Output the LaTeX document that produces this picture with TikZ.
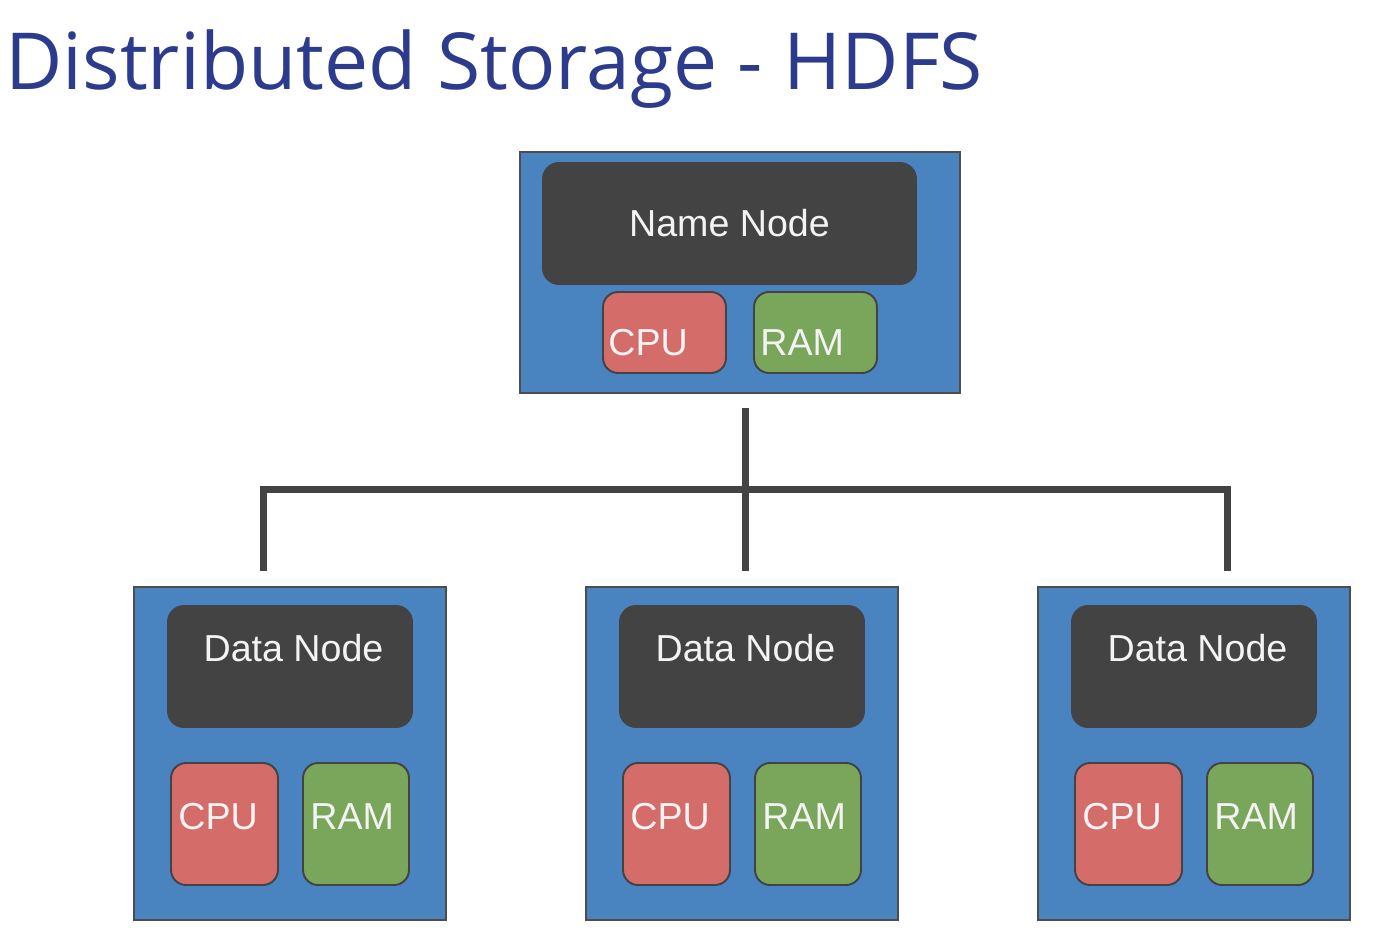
\documentclass[tikz,border=0pt]{standalone}
\usepackage{fontspec}
\setmainfont{Liberation Sans}
\newfontfamily\titlefont{Open Sans}
\definecolor{boxblue}{HTML}{4A84C0}
\definecolor{coregray}{HTML}{434343}
\definecolor{edgegray}{HTML}{4D4D4D}
\definecolor{cpured}{HTML}{D46C69}
\definecolor{ramgreen}{HTML}{79A65A}
\definecolor{txt}{HTML}{F3F3F3}
\definecolor{titleblue}{HTML}{2D3B8C}
\tikzset{
  server/.style={rectangle, draw=edgegray, line width=0.8pt, fill=boxblue},
  core/.style={rectangle, rounded corners=0.34cm, fill=coregray, text=txt, font=\fontsize{21.4}{24}\selectfont},
  cpubox/.style={rectangle, rounded corners=0.3cm, draw=coregray, line width=1.1pt, fill=cpured},
  rambox/.style={cpubox, fill=ramgreen},
  lbl/.style={text=txt, inner sep=0pt, font=\fontsize{21.4}{24}\selectfont},
  bus/.style={draw=coregray, line width=4.5pt}
}
\begin{document}
\begin{tikzpicture}[x=0.02cm,y=0.02cm]
\useasboundingbox (0,0) rectangle (1388,934);
\path (5,844) node[anchor=base west, inner sep=0pt, text=titleblue, font=\titlefont\fontsize{44.8}{50}\selectfont](title) {Distributed Storage - HDFS};
% name node
\path (740,661.5) node[server, minimum width=8.8cm, minimum height=4.82cm](nn) {}
(729.5,710.5) node[core, minimum width=7.5cm, minimum height=2.46cm](nncore) {Name Node}
(664.5,601.5) node[cpubox, minimum width=2.46cm, minimum height=1.62cm](nncpu) {}
(815.5,601.5) node[rambox, minimum width=2.46cm, minimum height=1.62cm](nnram) {};
\path ([shift={(6,18)}]nncpu.south west) node[lbl, anchor=base west](nncputxt) {CPU}
([shift={(7,18)}]nnram.south west) node[lbl, anchor=base west](nnramtxt) {RAM};
% data nodes
\path (290,180.5) node[server, minimum width=6.24cm, minimum height=6.66cm](dn1) {}
(290,267.5) node[core, minimum width=4.92cm, minimum height=2.46cm](dn1core) {}
(224.5,110) node[cpubox, minimum width=2.14cm, minimum height=2.44cm](dn1cpu) {}
(356,110) node[rambox, minimum width=2.12cm, minimum height=2.44cm](dn1ram) {};
\path (742,180.5) node[server, minimum width=6.24cm, minimum height=6.66cm](dn2) {}
(742,267.5) node[core, minimum width=4.92cm, minimum height=2.46cm](dn2core) {}
(676.5,110) node[cpubox, minimum width=2.14cm, minimum height=2.44cm](dn2cpu) {}
(808,110) node[rambox, minimum width=2.12cm, minimum height=2.44cm](dn2ram) {};
\path (1194,180.5) node[server, minimum width=6.24cm, minimum height=6.66cm](dn3) {}
(1194,267.5) node[core, minimum width=4.92cm, minimum height=2.46cm](dn3core) {}
(1128.5,110) node[cpubox, minimum width=2.14cm, minimum height=2.44cm](dn3cpu) {}
(1260,110) node[rambox, minimum width=2.12cm, minimum height=2.44cm](dn3ram) {};
\path ([shift={(3.5,-57)}]dn1core.north) node[lbl, anchor=base](dn1txt) {Data Node}
([shift={(8,56)}]dn1cpu.south west) node[lbl, anchor=base west](dn1cputxt) {CPU}
([shift={(8,56)}]dn1ram.south west) node[lbl, anchor=base west](dn1ramtxt) {RAM}
([shift={(3.5,-57)}]dn2core.north) node[lbl, anchor=base](dn2txt) {Data Node}
([shift={(8,56)}]dn2cpu.south west) node[lbl, anchor=base west](dn2cputxt) {CPU}
([shift={(8,56)}]dn2ram.south west) node[lbl, anchor=base west](dn2ramtxt) {RAM}
([shift={(3.5,-57)}]dn3core.north) node[lbl, anchor=base](dn3txt) {Data Node}
([shift={(8,56)}]dn3cpu.south west) node[lbl, anchor=base west](dn3cputxt) {CPU}
([shift={(8,56)}]dn3ram.south west) node[lbl, anchor=base west](dn3ramtxt) {RAM};
% connectors
\coordinate (nnout) at (745.5,526);
\coordinate (hub) at (745.5,444.5);
\coordinate (dn1in) at (263.5,363);
\coordinate (dn2in) at (745.5,363);
\coordinate (dn3in) at (1227.5,363);
\draw[bus] (nnout) -- (dn2in);
\draw[bus] (dn1in) |- (hub) -| (dn3in);
\end{tikzpicture}
\end{document}
